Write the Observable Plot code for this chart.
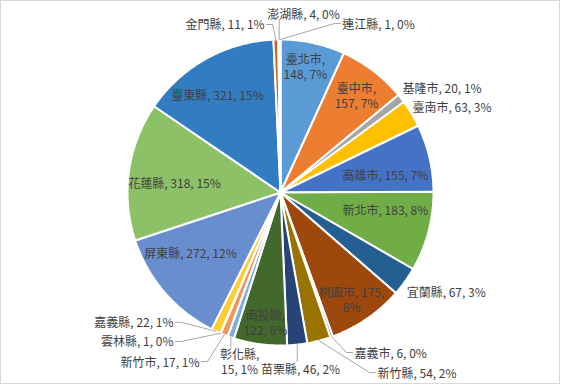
<!DOCTYPE html>
<html><head><meta charset="utf-8">
<script src="https://cdn.jsdelivr.net/npm/d3@7"></script>
<script src="https://cdn.jsdelivr.net/npm/@observablehq/plot@0.6"></script>
<style>
html,body{margin:0;padding:0;background:#fff;}
#wrap{position:relative;width:561px;height:385px;overflow:hidden;}
#chart{position:absolute;left:0;top:0;}
#border{position:absolute;left:0;top:0;width:560px;height:384px;box-sizing:border-box;border:1px solid #D9D9D9;pointer-events:none;}
</style></head>
<body><div id="wrap"><div id="chart"></div><div id="border"></div></div>
<script>
// ---- data ----
const names = ["臺北市","臺中市","基隆市","臺南市","高雄市","新北市","宜蘭縣","桃園市","嘉義市","新竹縣","苗栗縣","南投縣","彰化縣","新竹市","雲林縣","嘉義縣","屏東縣","花蓮縣","臺東縣","金門縣","澎湖縣","連江縣"];
const values = [148,157,20,63,155,183,67,175,6,54,46,122,15,17,1,22,272,318,321,11,4,1];
const colors = ["#5B9BD5","#ED7D31","#A5A5A5","#FFC000","#4472C4","#70AD47","#255E91","#9E480E","#636363","#997300","#264478","#43682B","#7CAFDD","#F1975A","#B7B7B7","#FFCD33","#698ED0","#8CC168","#327DC2","#D26012","#848484","#CC9A00"];

// ---- label layout (polar: angle clockwise from top in degrees, radius as fraction of pie radius) ----
const layout = [
  {theta:11.2, rho:0.84, anchor:"middle", leader:"none", brk:"name"},
  {theta:38.1, rho:0.805, anchor:"middle", leader:"none", brk:"name"},
  {theta:49.3, rho:1.052, anchor:"start", leader:"none", brk:"none"},
  {theta:57.2, rho:1.026, anchor:"start", leader:"none", brk:"none"},
  {theta:80.8, rho:0.695, anchor:"middle", leader:"none", brk:"none"},
  {theta:99.7, rho:0.696, anchor:"middle", leader:"none", brk:"none"},
  {theta:128.4, rho:1.052, anchor:"start", leader:"none", brk:"none"},
  {theta:146.4, rho:0.84, anchor:"middle", leader:"none", brk:"pct"},
  {theta:155.2, rho:1.152, anchor:"start", leader:"side", brk:"none"},
  {theta:151.7, rho:1.337, anchor:"start", leader:"side", brk:"none"},
  {theta:173.5, rho:1.158, anchor:"middle", leader:"down", brk:"none", half:7},
  {theta:186.6, rho:0.855, anchor:"middle", leader:"none", brk:"name"},
  {theta:193.6, rho:1.137, anchor:"middle", leader:"down", brk:"name", half:15},
  {theta:205.6, rho:1.225, anchor:"end", leader:"side", brk:"none"},
  {theta:215.7, rho:1.199, anchor:"end", leader:"side", brk:"none"},
  {theta:219.5, rho:1.10, anchor:"end", leader:"side", brk:"none"},
  {theta:235.9, rho:0.71, anchor:"middle", leader:"none", brk:"none"},
  {theta:274.9, rho:0.695, anchor:"middle", leader:"none", brk:"none"},
  {theta:327, rho:0.756, anchor:"middle", leader:"none", brk:"none"},
  {theta:354.6, rho:1.103, anchor:"end", leader:"side", brk:"none"},
  {theta:355.8, rho:1.173, anchor:"start", leader:"up", brk:"none", half:6},
  {theta:20.1, rho:1.176, anchor:"start", leader:"side", brk:"none"}
];

const R = 153; // pie radius in px (1 data unit)
const px = 1 / R;
const total = d3.sum(values);
const rad = d => d * Math.PI / 180;
const polar = (a, r) => ({x: r * Math.sin(a), y: r * Math.cos(a)});

// slices
let cum = 0;
const slices = names.map((name, i) => {
  const a0 = cum / total * 2 * Math.PI;
  cum += values[i];
  const a1 = cum / total * 2 * Math.PI;
  return {name, value: values[i], a0, a1, mid: (a0 + a1) / 2, pct: Math.round(values[i] / total * 100)};
});

const wedgePts = [];
for (const s of slices) {
  wedgePts.push({name: s.name, x: 0, y: 0});
  const n = Math.max(2, Math.ceil((s.a1 - s.a0) / rad(0.5)));
  for (let k = 0; k <= n; k++) {
    const p = polar(s.a0 + (s.a1 - s.a0) * k / n, 1);
    wedgePts.push({name: s.name, x: p.x, y: p.y});
  }
}

// labels
const labels = slices.map((s, i) => {
  const L = layout[i];
  const p = polar(rad(L.theta), L.rho);
  let text;
  if (L.brk === "name") text = `${s.name},\n${s.value}, ${s.pct}%`;
  else if (L.brk === "pct") text = `${s.name}, ${s.value},\n${s.pct}%`;
  else text = `${s.name}, ${s.value}, ${s.pct}%`;
  return {name: s.name, x: p.x, y: p.y, text, anchor: L.anchor};
});

// leader lines
const leaders = [];
slices.forEach((s, i) => {
  const L = layout[i];
  if (L.leader === "none") return;
  const e = polar(s.mid, 1);
  const lab = labels[i];
  if (L.leader === "side") {
    const dir = L.anchor === "start" ? -1 : 1;
    leaders.push({name: s.name, x: e.x, y: e.y});
    leaders.push({name: s.name, x: lab.x + dir * 8 * px, y: lab.y});
    leaders.push({name: s.name, x: lab.x + dir * 2 * px, y: lab.y});
  } else if (L.leader === "down") {
    leaders.push({name: s.name, x: e.x, y: e.y});
    leaders.push({name: s.name, x: e.x, y: lab.y + L.half * px});
  } else if (L.leader === "up") {
    leaders.push({name: s.name, x: e.x, y: e.y});
    leaders.push({name: s.name, x: e.x, y: lab.y - L.half * px});
  }
});

const textOpts = {x: "x", y: "y", text: "text", fill: "#404040", fontSize: 12, lineHeight: 1.3};

const chart = Plot.plot({
  width: 561,
  height: 385,
  margin: 0,
  x: {domain: [-1, 1], range: [280 - R, 280 + R], axis: null},
  y: {domain: [-1, 1], range: [192 + R, 192 - R], axis: null},
  color: {domain: names, range: colors},
  style: {fontFamily: "'Noto Sans CJK TC', 'Noto Sans', sans-serif", background: "white", overflow: "visible"},
  marks: [
    Plot.line(wedgePts, {x: "x", y: "y", z: "name", fill: "name", stroke: "white", strokeWidth: 2, strokeLinejoin: "miter", curve: "linear-closed"}),
    Plot.line(leaders, {x: "x", y: "y", z: "name", stroke: "#A6A6A6", strokeWidth: 1}),
    Plot.text(labels.filter(d => d.anchor === "middle"), {...textOpts, textAnchor: "middle"}),
    Plot.text(labels.filter(d => d.anchor === "start"), {...textOpts, textAnchor: "start"}),
    Plot.text(labels.filter(d => d.anchor === "end"), {...textOpts, textAnchor: "end"})
  ]
});
document.getElementById("chart").appendChild(chart);
</script>
</body></html>
